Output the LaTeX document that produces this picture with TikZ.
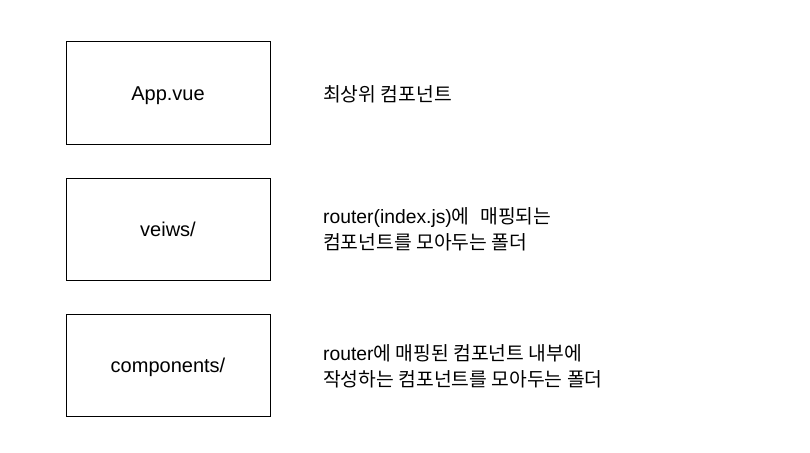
\documentclass[tikz,border=0pt]{standalone}
\usepackage{fontspec}
\setmainfont{Liberation Sans}
\newfontfamily\kr{Noto Sans CJK KR}
\newcommand{\ko}[1]{{\kr #1}}
\tikzset{
  folder/.style={draw,line width=1pt,minimum width=204pt,minimum height=102pt,inner sep=0pt,text height=14.3pt,text depth=0pt,font=\fontsize{20}{24}\selectfont},
  note/.style={anchor=west,align=left,inner sep=0pt,font=\fontsize{19.3}{26}\selectfont}
}
\begin{document}
\begin{tikzpicture}[x=1pt,y=-1pt]
\useasboundingbox (0,0) rectangle (810,452);
\node[folder] (app) at (168,93) {App.vue};
\node[folder] (views) at (168,229) {veiws/};
\node[folder] (comps) at (168,365) {components/};
% descriptions next to each folder
\node[note] (appnote) at (323,94) {\ko{최상위 컴포넌트}};
\node[note] (viewsnote) at (323,229) {router(index.js)\ko{에}\ \ \ko{매핑되는}\\\ko{컴포넌트를 모아두는 폴더}};
\node[note] (compsnote) at (323,366) {router\ko{에 매핑된 컴포넌트 내부에}\\\ko{작성하는 컴포넌트를 모아두는 폴더}};
\end{tikzpicture}
\end{document}
